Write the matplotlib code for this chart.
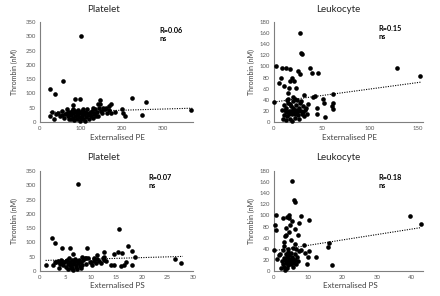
import matplotlib
matplotlib.use("Agg")
import matplotlib.pyplot as plt
import numpy as np

plt.rcParams['font.family'] = ['Lato', 'DejaVu Sans']

# ---------------- data ----------------
pe_plt_x = [100, 57, 24, 37, 85, 98, 226, 259, 370, 249, 208, 201, 203, 147, 142, 146, 175, 170, 82,
            165, 175, 185, 155, 160, 130,
            25, 30, 35, 38, 45, 50, 55, 60, 62, 65, 68, 70, 72, 75, 78, 80, 82, 84, 85, 88, 90, 92,
            94, 95, 97, 100, 102, 104, 105, 108, 110, 112, 115, 118, 120, 122, 125, 128, 130, 132,
            135, 138, 140, 142, 145, 150, 152, 158, 162, 168, 115, 95, 85, 75, 65, 55, 105, 125, 135,
            110, 90, 100, 80, 70]
pe_plt_y = [302, 143, 115, 98, 79, 80, 83, 69, 42, 26, 21, 45, 33, 78, 64, 62, 62, 56, 58,
            30, 30, 35, 48, 45, 50,
            20, 35, 12, 28, 32, 22, 38, 15, 28, 45, 20, 10, 35, 25, 40, 15, 30, 8, 22, 35, 12, 28,
            42, 18, 5, 32, 22, 40, 12, 28, 35, 18, 45, 25, 10, 32, 20, 40, 15, 28,
            45, 22, 35, 20, 50, 40, 30, 45, 48, 42, 30, 35, 40, 12, 30, 25, 45, 35, 30,
            5, 25, 15, 45, 30]

pe_leu_x = [27, 28.5, 29.5, 2, 8, 12, 16.5, 25, 27, 37.5, 40, 46, 127.5, 152, 7.6, 19, 21, 5.5, 10,
            16, 23, 17, 15, 0, 61, 42.6, 41, 31.6, 20, 22, 15, 51, 51.5, 61, 60.5, 61, 44.7, 45, 53,
            35, 33,
            8, 10, 12, 13, 14, 15, 16, 17, 18, 19, 20, 21, 22, 23, 24, 25, 26, 27, 28, 29, 30, 31, 32,
            12, 14, 17, 19, 22, 24, 26, 10, 9, 18, 20, 21, 25, 28, 30, 16, 23, 11, 34]
pe_leu_y = [161, 124, 122, 100, 97, 98, 95, 91, 86, 97, 88, 88, 98, 82, 80, 80, 74, 71, 65,
            62, 62, 73, 52, 36, 50, 46, 45, 48, 45, 42, 42, 42, 35, 35, 29, 24, 26, 14, 9,
            32, 25,
            22, 30, 18, 25, 10, 35, 20, 5, 28, 15, 38, 22, 8, 30, 18, 12, 25, 35, 20, 15, 28, 10, 22,
            3, 40, 32, 2, 15, 40, 5, 12, 5, 20, 25, 18, 20, 38, 18, 14, 22, 22, 14]

ps_plt_x = [7.4, 15.5, 2.3, 2.9, 4.3, 5.9, 9.3, 17.3, 18, 16, 15.2, 14.5, 18.6, 16.9, 16.5, 18, 14.6,
            26.5, 27.7, 11.2, 11.2, 12.5, 12.5, 12.3, 10.5, 9, 8.2, 6.5, 15.9, 12, 10,
            1.2, 2.5, 3, 3.5, 3.8, 4, 4.2, 4.5, 4.8, 5, 5.2, 5.4, 5.5, 5.6, 5.8, 6, 6, 6.2, 6.4, 6.5,
            6.6, 6.8, 7, 7, 7.2, 7.4, 7.6, 7.8, 8, 8.2, 8.5, 8.8, 9, 9.4, 9.8, 10.2, 10.5, 11, 3.2,
            4.6, 5, 5.8, 6.3, 7.3, 8, 4, 13, 12.5, 11.5, 14]
ps_plt_y = [303, 147, 115, 99, 80, 82, 82, 86, 69, 62, 66, 58, 49, 33, 22, 20, 22,
            43, 28, 55, 43, 65, 50, 44, 45, 45, 48, 58, 18, 27, 30,
            20, 20, 30, 35, 12, 28, 38, 22, 30, 15, 40, 25, 8, 45, 32, 18, 12, 38, 26, 5,
            30, 42, 20, 14, 35, 28, 40, 18, 30, 22, 38, 45, 25, 45, 30, 22, 35, 28, 30,
            33, 35, 20, 10, 8, 12, 25, 35, 40, 35, 20]

ps_leu_x = [5.3, 5.7, 6.1, 0.6, 2.5, 3.8, 4.3, 4.5, 5.3, 7.8, 10.2, 0.2, 0.5, 39.7, 43, 6, 7.4, 4.7,
            3.6, 4.3, 3.1, 3.6, 7, 5, 8.7, 16.1, 15.7, 0, 10.2, 10, 12.4, 9.6, 16.8, 3, 6, 2.8, 8,
            9, 5.5, 7.2,
            1, 1.5, 2, 2.2, 2.5, 2.8, 3, 3.2, 3.4, 3.5, 3.7, 3.8, 4, 4, 4.2, 4.4, 4.5, 4.6, 4.8, 5,
            5, 5.2, 5.4, 5.5, 5.6, 5.8, 6, 6.2, 6.4, 6.8, 7, 3.3, 4.1, 2.6, 6.5, 1.8]
ps_leu_y = [162, 127, 125, 101, 96, 98, 101, 95, 90, 99, 91, 83, 73, 99, 84, 76, 86, 83,
            77, 71, 63, 64, 64, 56, 47, 50, 43, 37, 36, 25, 26, 13, 10, 53, 48, 45, 38,
            32, 42, 36,
            22, 28, 6, 18, 12, 24, 8, 20, 30, 15, 5, 25, 35, 18, 10, 22, 28, 15, 20, 32,
            12, 18, 25, 8, 22, 15, 30, 20, 12, 25, 18, 2, 40, 38, 40, 30]

# trend lines: (intercept, slope, x_start, x_end)
pe_plt_trend = (33.0, 0.041, 24, 373)
pe_leu_trend = (36.0, 0.234, 0, 153)
ps_plt_trend = (36.5, 0.52, 1.1, 28)
ps_leu_trend = (36.5, 0.97, 0, 43)

titles = ["Platelet", "Leukocyte", "Platelet", "Leukocyte"]
r_texts = ["R=0.06\nns", "R=0.15\nns", "R=0.07\nns", "R=0.18\nns"]
xlabels = ["Externalised PE", "Externalised PE", "Externalised PS", "Externalised PS"]
ylabel = "Thrombin (nM)"

# ---------------- layout ----------------
W, H = 440, 296
fig = plt.figure(figsize=(W / 100, H / 100), dpi=100)
fig.patch.set_facecolor("white")

def frac(px_l, px_t, px_r, px_b):
    return [px_l / W, 1 - px_b / H, (px_r - px_l) / W, (px_b - px_t) / H]

panels = [
    dict(rect=frac(40, 22, 193, 122), x=pe_plt_x, y=pe_plt_y, trend=pe_plt_trend,
         xlim=(0, 375), xticks=[0, 100, 200, 300], ylim=(0, 350), yticks=np.arange(0, 351, 50),
         title_xy=(103, 10), xlab_xy=(117, 137), ylab_xy=(14, 72), r_xy=(0.78, 0.95)),
    dict(rect=frac(274, 22, 423, 122), x=pe_leu_x, y=pe_leu_y, trend=pe_leu_trend,
         xlim=(0, 155), xticks=[0, 50, 100, 150], ylim=(0, 180), yticks=np.arange(0, 181, 20),
         title_xy=(338, 10), xlab_xy=(350, 137), ylab_xy=(251, 72), r_xy=(0.70, 0.97)),
    dict(rect=frac(40, 171, 193, 271), x=ps_plt_x, y=ps_plt_y, trend=ps_plt_trend,
         xlim=(0, 30), xticks=np.arange(0, 31, 5), ylim=(0, 350), yticks=np.arange(0, 351, 50),
         title_xy=(103, 158), xlab_xy=(117, 285), ylab_xy=(14, 221), r_xy=(0.71, 0.97)),
    dict(rect=frac(274, 171, 423, 271), x=ps_leu_x, y=ps_leu_y, trend=ps_leu_trend,
         xlim=(0, 43.5), xticks=np.arange(0, 41, 10), ylim=(0, 180), yticks=np.arange(0, 181, 20),
         title_xy=(338, 158), xlab_xy=(350, 285), ylab_xy=(251, 221), r_xy=(0.70, 0.97)),
]

grey = "#7f7f7f"
txtgrey = "#595959"
for i, p in enumerate(panels):
    ax = fig.add_axes(p["rect"])
    ax.scatter(p["x"], p["y"], s=11, color="black", linewidths=0, zorder=3, clip_on=False)
    b, m, x0, x1 = p["trend"]
    xs = np.array([x0, x1])
    ax.plot(xs, b + m * xs, color="black", linestyle=(0, (1, 1.2)), linewidth=0.8, zorder=2)
    ax.set_xlim(*p["xlim"])
    ax.set_ylim(*p["ylim"])
    ax.set_xticks(p["xticks"])
    ax.set_yticks(p["yticks"])
    for s in ["top", "right"]:
        ax.spines[s].set_visible(False)
    for s in ["left", "bottom"]:
        ax.spines[s].set_color(grey)
        ax.spines[s].set_linewidth(0.8)
    ax.tick_params(length=0, labelsize=4.3, labelcolor=txtgrey, pad=3)
    ax.text(p["r_xy"][0], p["r_xy"][1], r_texts[i], transform=ax.transAxes,
            fontsize=5.2, fontweight="bold", va="top", ha="left", linespacing=1.2)
    fig.text(p["title_xy"][0] / W, 1 - p["title_xy"][1] / H, titles[i],
             ha="center", va="center", fontsize=7, color="#262626")
    fig.text(p["xlab_xy"][0] / W, 1 - p["xlab_xy"][1] / H, xlabels[i],
             ha="center", va="center", fontsize=5.8, color="#404040")
    fig.text(p["ylab_xy"][0] / W, 1 - p["ylab_xy"][1] / H, ylabel,
             ha="center", va="center", fontsize=5.0, color="#404040", rotation=90)

fig.savefig("out.png", dpi=100, facecolor="white")
